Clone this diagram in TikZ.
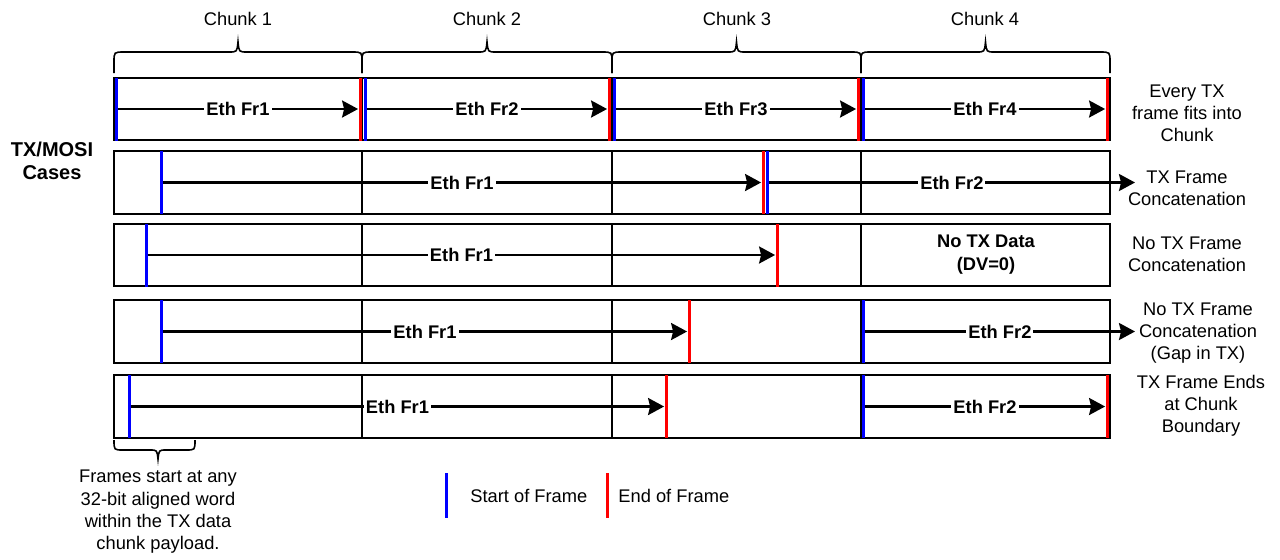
\documentclass[tikz,border=0pt]{standalone}
\usepackage{fontspec}
\setmainfont{Liberation Sans}
\usetikzlibrary{arrows.meta}

% curly brace over one chunk: #1 = left x, #2 = right x
\newcommand{\topbrace}[2]{%
  \draw[bracepath] (#1,73) -- (#1,62) .. controls (#1,52) .. ({#1+10},52)
    -- ({(#1+#2)/2-9},52) .. controls ({(#1+#2)/2-1},52) .. ({(#1+#2)/2},42)
    .. controls ({(#1+#2)/2+1},52) .. ({(#1+#2)/2+9},52)
    -- ({#2-10},52) .. controls (#2,52) .. (#2,62) -- (#2,73);}

\begin{document}
\begin{tikzpicture}[x=0.5pt,y=-0.5pt,
  txt/.style={font=\fontsize{9.15}{11}\selectfont, inner sep=0pt, align=center},
  rowbox/.style={draw=black, line width=0.8pt},
  divider/.style={draw=black, line width=0.8pt},
  sof/.style={fill=blue, draw=none, inner sep=0pt, minimum width=1.5pt, minimum height=31.5pt},
  eof/.style={sof, fill=red},
  frarrow/.style={draw=black, line width=1.15pt, -{Stealth[length=8pt,width=8.5pt,inset=1pt]}},
  frlabel/.style={midway, fill=white, font=\fontsize{9.15}{11}\selectfont\bfseries, inner xsep=1pt, inner ysep=1pt},
  bracepath/.style={draw=black, line width=0.8pt},
]
\useasboundingbox (0,0) rectangle (1280,559);

% chunk braces and titles
\topbrace{114}{362}
\topbrace{362}{612}
\topbrace{612}{861}
\topbrace{861}{1110}
\node[txt] (k1) at (238,19) {Chunk 1};
\node[txt] (k2) at (487,19) {Chunk 2};
\node[txt] (k3) at (737,19) {Chunk 3};
\node[txt] (k4) at (985,19) {Chunk 4};

\node[txt, font=\fontsize{10}{11.5}\selectfont\bfseries] (cases) at (52,161) {TX/MOSI\\Cases};

% the five case rows with chunk dividers
\foreach \ya/\yb in {78/140, 151/214, 224/286, 300/363, 375/438} {
  \draw[rowbox] (114,\ya) rectangle (1110,\yb);
  \foreach \xd in {362,612,861} \draw[divider] (\xd,\ya) -- (\xd,\yb);
}

% row 1: every frame fits a chunk
\node[sof] (b11) at (116,109) {};
\node[eof] (r11) at (360,109) {};
\node[sof] (b12) at (365,109) {};
\node[eof] (r12) at (609,109) {};
\node[sof] (b13) at (614,109) {};
\node[eof] (r13) at (858,109) {};
\node[sof] (b14) at (863,109) {};
\node[eof] (r14) at (1107,109) {};
\draw[frarrow] (b11) -- (r11) node[frlabel] {Eth Fr1};
\draw[frarrow] (b12) -- (r12) node[frlabel] {Eth Fr2};
\draw[frarrow] (b13) -- (r13) node[frlabel] {Eth Fr3};
\draw[frarrow] (b14) -- (r14) node[frlabel] {Eth Fr4};

% row 2: frame concatenation
\node[sof] (b21) at (161,182.5) {};
\node[eof] (r21) at (763,182.5) {};
\node[sof] (b22) at (767,182.5) {};
\coordinate (e22) at (1135,182.5);
\draw[frarrow] (b21) -- (r21) node[frlabel] {Eth Fr1};
\draw[frarrow] (b22) -- (e22) node[frlabel] {Eth Fr2};

% row 3: no data after the frame
\node[sof] (b31) at (146,255) {};
\node[eof] (r31) at (777,255) {};
\draw[frarrow] (b31) -- (r31) node[frlabel] {Eth Fr1};
\node[txt, font=\fontsize{9.15}{11.5}\selectfont\bfseries] (nodata) at (986,255) {No TX Data\\(DV=0)};

% row 4: gap between frames
\node[sof] (b41) at (161,331.5) {};
\node[eof] (r41) at (689,331.5) {};
\node[sof] (b42) at (863,331.5) {};
\coordinate (e42) at (1135,331.5);
\draw[frarrow] (b41) -- (r41) node[frlabel] {Eth Fr1};
\draw[frarrow] (b42) -- (e42) node[frlabel] {Eth Fr2};

% row 5: frame ends on the chunk boundary
\node[sof] (b51) at (129,406.5) {};
\node[eof] (r51) at (666,406.5) {};
\node[sof] (b52) at (863,406.5) {};
\node[eof] (r52) at (1107,406.5) {};
\draw[frarrow] (b51) -- (r51) node[frlabel] {Eth Fr1};
\draw[frarrow] (b52) -- (r52) node[frlabel] {Eth Fr2};

% case descriptions
\node[txt] (c1) at (1187,113) {Every TX\\frame fits into\\Chunk};
\node[txt] (c2) at (1187,188) {TX Frame\\Concatenation};
\node[txt] (c3) at (1187,254) {No TX Frame\\Concatenation};
\node[txt] (c4) at (1198,333) {No TX Frame\\Concatenation\\(Gap in TX)};
\node[txt] (c5) at (1201,406) {TX Frame Ends\\at Chunk\\Boundary};

% alignment note with its brace
\draw[bracepath] (114,440) .. controls (114,450) .. (123,450) -- (150,450)
  .. controls (157,450) .. (158,459) .. controls (159,450) .. (166,450)
  -- (186,450) .. controls (195,450) .. (195,440);
\node[txt, font=\fontsize{9.15}{11.15}\selectfont] (note) at (158,512)
  {Frames start at any\\32-bit aligned word\\within the TX data\\chunk payload.};

% legend
\node[sof, minimum height=22.5pt] (lsof) at (446,495.5) {};
\node[txt, anchor=west] (lsoft) at (470,496) {Start of Frame};
\node[eof, minimum height=22.5pt] (leof) at (607,495.5) {};
\node[txt, anchor=west] (leoft) at (618,496) {End of Frame};
\end{tikzpicture}
\end{document}
